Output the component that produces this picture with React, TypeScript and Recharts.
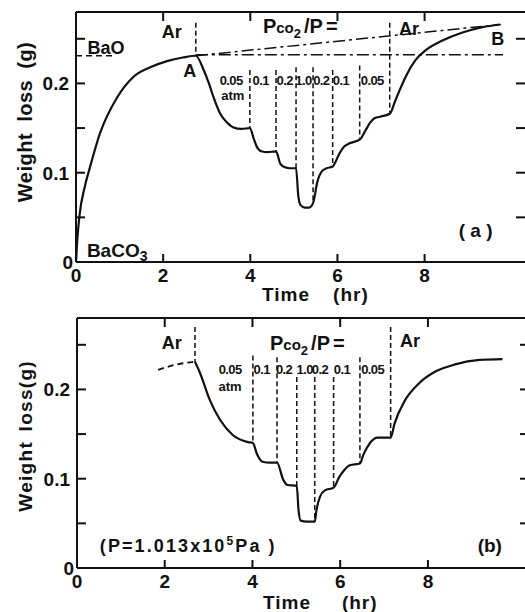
import React from "react";
import {
  LineChart,
  Line,
  XAxis,
  YAxis,
  ReferenceLine,
  ReferenceDot,
} from "recharts";

// (a) weight loss vs time
const timeA = [0, 0.03, 0.08, 0.2, 0.32, 0.55, 0.94, 1.31, 1.7, 2.09, 2.45, 2.75, 2.93, 3.05, 3.16, 3.31, 3.45, 3.6, 3.8, 3.99, 4.08, 4.15, 4.25, 4.4, 4.59, 4.69, 4.8, 4.9, 5.05, 5.1, 5.15, 5.25, 5.35, 5.44, 5.54, 5.65, 5.75, 5.89, 6.05, 6.15, 6.28, 6.51, 6.64, 6.75, 6.85, 7.0, 7.2, 7.33, 7.45, 7.56, 7.79, 8.02, 8.41, 8.87, 9.33, 9.72];
const lossA = [0, 0.025, 0.052, 0.084, 0.106, 0.144, 0.184, 0.207, 0.218, 0.225, 0.229, 0.231, 0.215, 0.2, 0.184, 0.166, 0.157, 0.151, 0.149, 0.15, 0.138, 0.129, 0.124, 0.123, 0.124, 0.11, 0.106, 0.105, 0.105, 0.075, 0.064, 0.061, 0.061, 0.066, 0.09, 0.102, 0.105, 0.107, 0.122, 0.129, 0.133, 0.137, 0.147, 0.156, 0.161, 0.163, 0.166, 0.181, 0.195, 0.207, 0.226, 0.237, 0.248, 0.257, 0.263, 0.266];

// BaO level and the two dash-dot guides in (a)
const baoTime = [0, 0.9];
const baoLoss = [0.231, 0.231];
const flatTime = [2.75, 9.8];
const flatLoss = [0.232, 0.232];
const slopeTime = [2.75, 9.75];
const slopeLoss = [0.231, 0.266];

// (b)
const timeBDash = [1.85, 2.28, 2.69];
const lossBDash = [0.222, 0.228, 0.231];
const timeB = [2.69, 2.8, 3.03, 3.26, 3.55, 3.9, 4.01, 4.1, 4.23, 4.4, 4.56, 4.7, 4.8, 5.01, 5.05, 5.1, 5.25, 5.42, 5.46, 5.54, 5.65, 5.85, 5.98, 6.1, 6.22, 6.45, 6.53, 6.68, 6.85, 7.15, 7.24, 7.48, 7.8, 8.17, 8.62, 9.18, 9.7];
const lossB = [0.231, 0.219, 0.188, 0.166, 0.149, 0.141, 0.14, 0.128, 0.119, 0.118, 0.118, 0.099, 0.093, 0.092, 0.065, 0.053, 0.052, 0.052, 0.065, 0.08, 0.087, 0.09, 0.102, 0.11, 0.115, 0.117, 0.127, 0.14, 0.146, 0.146, 0.162, 0.188, 0.207, 0.22, 0.228, 0.233, 0.234];

// gas switching times (dashed verticals): top of line, value on the curve
const switchA = [2.75, 3.99, 4.59, 5.05, 5.44, 5.89, 6.51, 7.2];
const switchTopA = [0.268, 0.215, 0.215, 0.218, 0.218, 0.215, 0.22, 0.268];
const switchLossA = [0.231, 0.15, 0.124, 0.105, 0.066, 0.107, 0.137, 0.166];
const switchB = [2.69, 4.01, 4.56, 5.01, 5.42, 5.85, 6.45, 7.15];
const switchTopB = [0.27, 0.238, 0.236, 0.214, 0.214, 0.214, 0.236, 0.27];
const switchLossB = [0.231, 0.14, 0.118, 0.092, 0.052, 0.09, 0.117, 0.146];

const pco2Labels = ["0.1", "0.2", "1.0", "0.2", "0.1", "0.05"];
const pco2TimeA = [4.24, 4.79, 5.22, 5.63, 6.08, 6.8];
const pco2TimeB = [4.21, 4.72, 5.19, 5.54, 6.04, 6.74];

const xTicks = [0, 2, 4, 6, 8];
const yTicks = [0, 0.05, 0.1, 0.15, 0.2, 0.25];

const T_MAX = 10.35;
const Y_MAX = 0.28;
const FONT = "'Liberation Sans', Arial, sans-serif";
const INK = "#111";

const rows = (t: number[], v: number[]) => t.map((x, i) => ({ t: x, v: v[i] }));

const textStyle = {
  fontFamily: FONT,
  fontWeight: "bold" as const,
  fill: INK,
};

const LeftTick = (props: any) => {
  const { x, y, payload } = props;
  const v = payload.value;
  const showLabel = Math.round(v * 100) % 10 === 0;
  return (
    <g>
      {v > 0 && <line x1={x} x2={x + 9} y1={y} y2={y} stroke={INK} strokeWidth={2} />}
      {showLabel && (
        <text x={v === 0 ? x - 3 : x - 7} y={y} dy="0.36em" textAnchor="end" fontSize={19} {...textStyle}>
          {v === 0 ? "0" : v.toFixed(1)}
        </text>
      )}
    </g>
  );
};

const RightTick = (props: any) => {
  const { x, y, payload } = props;
  if (payload.value <= 0) return <g />;
  return <line x1={x} x2={x - 11} y1={y} y2={y} stroke={INK} strokeWidth={2} />;
};

const BottomTick = (props: any) => {
  const { x, y, payload } = props;
  const v = payload.value;
  return (
    <g>
      {v > 0 && <line x1={x} x2={x} y1={y} y2={y - 8} stroke={INK} strokeWidth={2} />}
      <text x={x} y={y + 13} dy="0.36em" textAnchor="middle" fontSize={19} {...textStyle}>
        {v}
      </text>
    </g>
  );
};

const TopTick = (props: any) => {
  const { x, y, payload } = props;
  if (payload.value <= 0) return <g />;
  return <line x1={x} x2={x} y1={y} y2={y + 9} stroke={INK} strokeWidth={2} />;
};

const axisLine = { stroke: INK, strokeWidth: 2 };

// axes are 1px thick so recharts still draws them; margins below account for that
const axes = () => [
  <XAxis key="xb" dataKey="t" type="number" domain={[0, T_MAX]} allowDataOverflow ticks={xTicks}
    height={1} tickSize={0} tickMargin={0} tickLine={false} axisLine={axisLine} tick={<BottomTick />} />,
  <XAxis key="xt" xAxisId="top" orientation="top" dataKey="t" type="number" domain={[0, T_MAX]} allowDataOverflow
    ticks={xTicks} height={1} tickSize={0} tickMargin={0} tickLine={false} axisLine={axisLine} tick={<TopTick />} />,
  <YAxis key="yl" type="number" domain={[0, Y_MAX]} allowDataOverflow ticks={yTicks} width={1}
    tickSize={0} tickMargin={0} tickLine={false} axisLine={axisLine} tick={<LeftTick />} />,
  <YAxis key="yr" yAxisId="right" orientation="right" type="number" domain={[0, Y_MAX]} allowDataOverflow
    ticks={yTicks} width={1} tickSize={0} tickMargin={0} tickLine={false} axisLine={axisLine} tick={<RightTick />} />,
];

// text placed at data coordinates
const note = (key: string, t: number, v: number, draw: (x: number, y: number) => React.ReactNode) => (
  <ReferenceDot
    key={key}
    x={t}
    y={v}
    r={0}
    fill="none"
    stroke="none"
    ifOverflow="visible"
    label={(p: any) => {
      const vb = p.viewBox || p;
      return <g>{draw(vb.x + (vb.width || 0) / 2, vb.y + (vb.height || 0) / 2)}</g>;
    }}
  />
);

const centered = (key: string, t: number, v: number, s: string, size = 18, extra: any = {}) =>
  note(key, t, v, (x, y) => (
    <text x={x} y={y} dy="0.36em" textAnchor="middle" fontSize={size} {...textStyle} {...extra}>
      {s}
    </text>
  ));

const pco2Title = (key: string, t: number, v: number) =>
  note(key, t, v, (x, y) => (
    <text x={x} y={y} fontSize={20} {...textStyle}>
      P<tspan fontSize={15}>co</tspan>
      <tspan fontSize={13} dy={5}>2</tspan>
      <tspan dy={-5} dx={3}>/</tspan>
      <tspan>P</tspan>
      <tspan dx={3}>=</tspan>
    </text>
  ));

// rotated title, anchored at its lower end
const yTitle = (key: string, t: number, v: number, s: string, size: number, ls: number, ws: number) =>
  note(key, t, v, (x, y) => (
    <text x={x} y={y} dy="0.36em" textAnchor="start" fontSize={size} letterSpacing={ls} wordSpacing={ws}
      transform={`rotate(-90, ${x}, ${y})`} {...textStyle}>
      {s}
    </text>
  ));

const startText = (key: string, t: number, v: number, s: string, size = 19) =>
  note(key, t, v, (x, y) => (
    <text x={x} y={y} fontSize={size} letterSpacing={1} {...textStyle}>
      {s}
    </text>
  ));

const switchLines = (times: number[], tops: number[], bottoms: number[]) =>
  times.map((t, i) => (
    <ReferenceLine
      key={`sw${i}`}
      segment={[{ x: t, y: tops[i] }, { x: t, y: bottoms[i] }]}
      stroke={INK}
      strokeWidth={1.5}
      strokeDasharray="5 3"
      ifOverflow="visible"
    />
  ));

const rowLabels = (times: number[], v: number, prefix: string) =>
  times.map((t, i) =>
    centered(`${prefix}${i}`, t, v, pco2Labels[i], 13, { letterSpacing: -0.6 })
  );

function PanelA() {
  return (
    <LineChart width={521} height={300} margin={{ top: 3, right: 1, left: 67, bottom: 45 }}>
      {axes()}
      {switchLines(switchA, switchTopA, switchLossA)}
      <Line data={rows(baoTime, baoLoss)} dataKey="v" type="linear" stroke={INK} strokeWidth={1.5}
        strokeDasharray="6 4" dot={false} isAnimationActive={false} />
      <Line data={rows(flatTime, flatLoss)} dataKey="v" type="linear" stroke={INK} strokeWidth={1.5}
        strokeDasharray="12 4 3 4" dot={false} isAnimationActive={false} />
      <Line data={rows(slopeTime, slopeLoss)} dataKey="v" type="linear" stroke={INK} strokeWidth={1.5}
        strokeDasharray="12 4 3 4" dot={false} isAnimationActive={false} />
      <Line data={rows(timeA, lossA)} dataKey="v" type="monotone" stroke={INK} strokeWidth={2.2}
        dot={false} isAnimationActive={false} />
      {centered("ar1", 2.2, 0.258, "Ar")}
      {centered("bao", 0.69, 0.24, "BaO")}
      {centered("A", 2.61, 0.2145, "A")}
      {centered("B", 9.68, 0.25, "B")}
      {centered("ar2", 7.64, 0.261, "Ar")}
      {centered("atm05", 3.56, 0.203, "0.05", 13, { letterSpacing: -0.6 })}
      {centered("atm", 3.6, 0.187, "atm", 13)}
      {rowLabels(pco2TimeA, 0.203, "la")}
      {pco2Title("pco", 4.29, 0.256)}
      {centered("tag", 9.17, 0.036, "( a )", 19)}
      {note("baco", 0.25, 0.006, (x, y) => (
        <text x={x} y={y} fontSize={19} {...textStyle}>
          BaCO<tspan fontSize={14} dy={4}>3</tspan>
        </text>
      ))}
      {yTitle("yt", -1.17, 0.067, "Weight loss (g)", 20, 0.5, 5)}
      {startText("time", 4.27, -0.0436, "Time")}
      {startText("hr", 5.9, -0.0436, "(hr)")}
    </LineChart>
  );
}

function PanelB() {
  return (
    <LineChart width={525} height={304} margin={{ top: 9, right: 1, left: 68, bottom: 43 }}>
      {axes()}
      {switchLines(switchB, switchTopB, switchLossB)}
      <Line data={rows(timeBDash, lossBDash)} dataKey="v" type="monotone" stroke={INK} strokeWidth={1.8}
        strokeDasharray="6 4" dot={false} isAnimationActive={false} />
      <Line data={rows(timeB, lossB)} dataKey="v" type="monotone" stroke={INK} strokeWidth={2.2}
        dot={false} isAnimationActive={false} />
      {centered("ar1", 2.16, 0.252, "Ar")}
      {centered("ar2", 7.59, 0.255, "Ar")}
      {centered("atm05", 3.49, 0.222, "0.05", 13, { letterSpacing: -0.6 })}
      {centered("atm", 3.49, 0.203, "atm", 13)}
      {rowLabels(pco2TimeB, 0.222, "lb")}
      {pco2Title("pco", 4.4, 0.244)}
      {centered("tag", 9.41, 0.026, "(b)", 19)}
      {note("p", 0.52, 0.018, (x, y) => (
        <text x={x} y={y} fontSize={18} letterSpacing={2.1} {...textStyle}>
          (P=1.013x10<tspan fontSize={12} dy={-7}>5</tspan>
          <tspan dy={7}>Pa )</tspan>
        </text>
      ))}
      {yTitle("yt", -1.18, 0.063, "Weight loss(g)", 19, 1.3, 3)}
      {startText("time", 4.24, -0.046, "Time")}
      {startText("hr", 6.04, -0.046, "(hr)")}
    </LineChart>
  );
}

export default function App() {
  // pinned to the page corner so the figure fits the window without scrollbars
  return (
    <div style={{ position: "absolute", top: 0, left: 0, width: 525, height: 612, overflow: "hidden", background: "#fff" }}>
      <div style={{ position: "absolute", top: 8, left: 8 }}>
        <PanelA />
        <PanelB />
      </div>
    </div>
  );
}
